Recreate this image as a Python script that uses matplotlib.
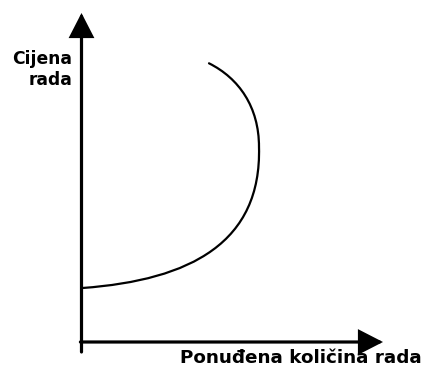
import numpy as np
import matplotlib.pyplot as plt
from matplotlib.path import Path
from matplotlib.patches import PathPatch

# supply curve of labour as two cubic Bezier pieces, control points
# (quantity, wage), origin at the axis corner
kolicina = [1, 110, 180, 177.5, 177.5, 157.5, 127.5]
cijena = [54, 62, 100, 195, 235, 263.7, 278.7]

y_label = "Cijena\nrada"
x_label = "Ponuđena količina rada"

fig = plt.figure(figsize=(4.21, 3.67), dpi=100)
ax = fig.add_axes([0, 0, 1, 1])
ax.set_xlim(-81.5, 339.5)
ax.set_ylim(-25, 342)
ax.axis('off')

# axes with arrows
strelica = dict(arrowstyle='-|>,head_width=0.37,head_length=0.72', mutation_scale=20,
                lw=2.3, color='black', shrinkA=0, shrinkB=0, joinstyle='miter')
ax.annotate('', xy=(0, 329), xytext=(0, -10), arrowprops=strelica)
ax.annotate('', xy=(301.5, 0), xytext=(-1.1, 0), arrowprops=strelica)

verts = list(zip(kolicina, cijena))
codes = [Path.MOVETO] + [Path.CURVE4] * 6
ax.add_patch(PathPatch(Path(verts, codes), facecolor='none', edgecolor='black',
                       lw=1.6, capstyle='round'))

ax.text(-9.5, 257, y_label, ha='right', va='baseline', multialignment='right',
        fontsize=12.3, fontweight='bold', family='DejaVu Sans', linespacing=1.2)
ax.text(98.5, -21, x_label, ha='left', va='baseline', fontsize=13.2,
        fontweight='bold', family='DejaVu Sans')

fig.savefig('out.png', dpi=100)
